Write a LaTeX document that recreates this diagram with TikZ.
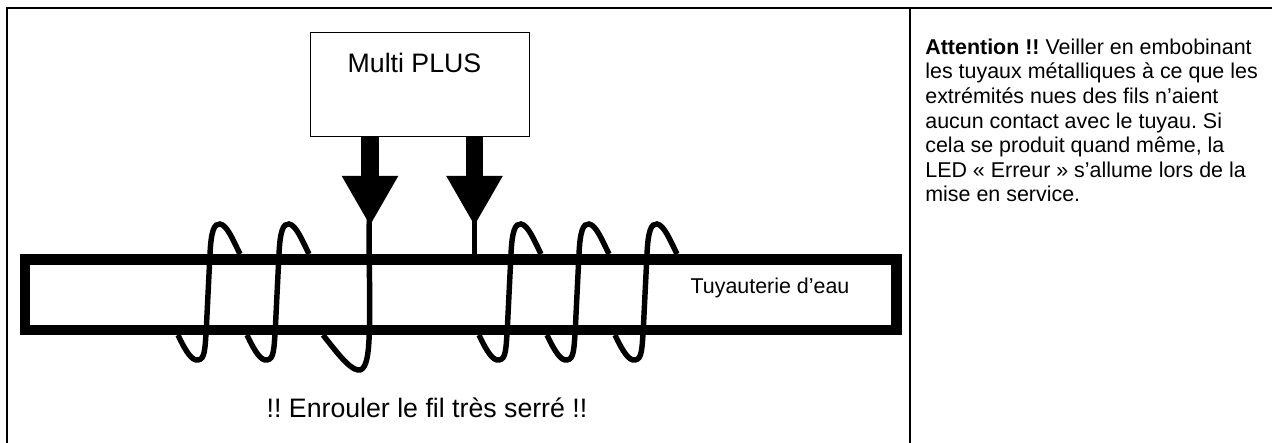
\documentclass[tikz,border=0pt]{standalone}
\usepackage{fontspec}
\setmainfont{Liberation Sans}
\frenchspacing
\usetikzlibrary{arrows.meta}

\tikzset{
  framerule/.style={line width=1.2pt},
  tubewall/.style={line width=6pt},
  wire/.style={line width=3.1pt},
  feed/.style={line width=10pt,-{Triangle[width=30pt,length=28.5pt]}},
  bigtext/.style={font=\fontsize{15.2}{18}\selectfont,inner sep=0pt},
  smalltext/.style={font=\fontsize{12.2}{14}\selectfont,inner sep=0pt}
}

% one turn of the coil, #1 = shift of the turn
\newcommand{\coilturn}[1]{
  \draw[wire,xshift=#1*0.02cm] (178,335) .. controls (186,352) and (192,361) .. (198,360)
    .. controls (205,359) and (205,350) .. (206.5,325) -- (210,254)
    .. controls (211,232) and (214,223) .. (220,224) .. controls (227,225) and (233,240) .. (240,254);
}

\begin{document}
\begin{tikzpicture}[x=0.02cm,y=-0.02cm]
    \useasboundingbox (0,0) rectangle (1272,443);

    % table lines
    \coordinate (framea) at (7,443);
    \coordinate (frameb) at (7,7.7);
    \coordinate (framec) at (1272,7.7);
    \coordinate (rulea) at (910,7.7);
    \coordinate (ruleb) at (910,443);
    \draw[framerule] (framea) -- (frameb) -- (framec);
    \draw[framerule] (rulea) -- (ruleb);

    % water pipe
    \draw[tubewall] (25,259.5) rectangle (896.7,330);
    \node[smalltext] (pipelabel) at (770,287.5) {Tuyauterie d’eau};

    % box
    \node[draw,line width=0.7pt,minimum width=218.6*0.02cm,minimum height=104*0.02cm,inner sep=0pt] (multi) at (420,84.7) {};
    \node[bigtext] (multilabel) at (414.5,62.5) {Multi PLUS};

    % arrows
    \coordinate (tipa) at (370,226);
    \coordinate (tipb) at (474.5,226);
    \coordinate (stubtop) at (474.5,215);
    \coordinate (wirefoot) at (474.5,254);
    \draw[feed] (multi.south -| tipa) -- (tipa);
    \draw[feed] (multi.south -| tipb) -- (tipb);
    \draw[line width=3.4pt] (stubtop) -- (wirefoot);

    % coil
    \foreach \turn in {0,69,301,369,437}
      \coilturn{\turn}
    \coordinate (wiretop) at (369.5,215);
    \coordinate (wireend) at (323,335);
    \draw[wire] (wiretop) .. controls (368,250) and (371,300) .. (369,340)
      .. controls (368,360) and (365,371) .. (358,370) .. controls (349,369) and (335,350) .. (wireend);

    % texts
    \node[bigtext] (warnlabel) at (427,408) {!! Enrouler le fil très serré !!};
    \node[smalltext,anchor=north west,align=left] (note) at (925,38.5) {\textbf{Attention !!} Veiller en embobinant\\
      les tuyaux métalliques à ce que les\\
      extrémités nues des fils n’aient\\
      aucun contact avec le tuyau. Si\\
      cela se produit quand même, la\\
      LED « Erreur » s’allume lors de la\\
      mise en service.};
  \end{tikzpicture}
\end{document}
